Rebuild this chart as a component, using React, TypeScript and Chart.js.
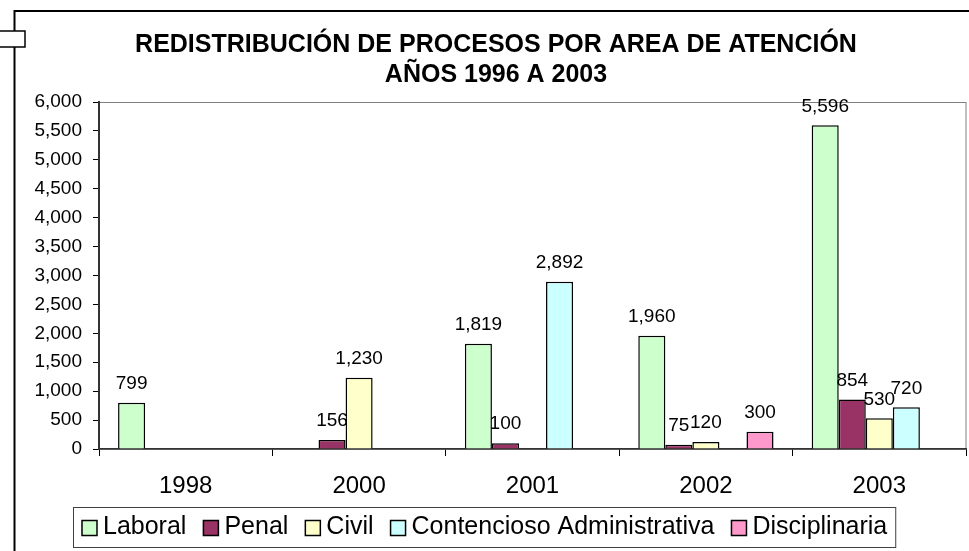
import React, { useEffect, useRef } from "react";
import { Chart, registerables } from "chart.js";

Chart.register(...registerables);

const TITLE_LINES = ["REDISTRIBUCIÓN DE PROCESOS POR AREA DE ATENCIÓN", "AÑOS 1996 A 2003"];
const YEARS = ["1998", "2000", "2001", "2002", "2003"];
const LABORAL = [799, null, 1819, 1960, 5596];
const PENAL = [null, 156, 100, 75, 854];
const CIVIL = [null, 1230, null, 120, 530];
const CONTENCIOSO = [null, null, 2892, null, 720];
const DISCIPLINARIA = [null, null, null, 300, null];
const SERIES_NAMES = ["Laboral", "Penal", "Civil", "Contencioso Administrativa", "Disciplinaria"];
const SERIES_COLORS = ["#CCFFCC", "#993366", "#FFFFCC", "#CCFFFF", "#FF99CC"];
const SERIES_VALUES = [LABORAL, PENAL, CIVIL, CONTENCIOSO, DISCIPLINARIA];
const Y_MIN = 0;
const Y_MAX = 6000;
const Y_STEP = 500;

const FONT = "'Liberation Sans', Arial, sans-serif";
const fmt = (v: number) => v.toLocaleString("en-US");

const decorPlugin = {
  id: "decor",
  beforeDraw(chart: any) {
    const ctx = chart.ctx;
    const a = chart.chartArea;
    ctx.save();
    ctx.fillStyle = "#ffffff";
    ctx.fillRect(0, 0, chart.width, chart.height);
    // outer frame
    ctx.strokeStyle = "#000000";
    ctx.lineWidth = 2;
    ctx.beginPath();
    ctx.moveTo(14.5, chart.height + 2);
    ctx.lineTo(14.5, 11);
    ctx.lineTo(chart.width + 2, 11);
    ctx.stroke();
    // small handle rectangle
    ctx.fillStyle = "#ffffff";
    ctx.fillRect(0, 31, 25, 16);
    ctx.lineWidth = 1.5;
    ctx.strokeRect(-1, 31, 26, 16);
    // plot area border
    ctx.strokeStyle = "#808080";
    ctx.lineWidth = 1;
    ctx.strokeRect(a.left + 0.5, a.top + 0.5, a.right - a.left - 0.5, a.bottom - a.top);
    ctx.restore();
  },
  afterDatasetsDraw(chart: any) {
    const ctx = chart.ctx;
    ctx.save();
    ctx.font = `19px ${FONT}`;
    ctx.fillStyle = "#000000";
    ctx.textAlign = "center";
    ctx.textBaseline = "middle";
    chart.data.datasets.forEach((ds: any, i: number) => {
      const meta = chart.getDatasetMeta(i);
      meta.data.forEach((el: any, j: number) => {
        const v = ds.data[j];
        if (v === null || v === undefined) return;
        ctx.fillText(fmt(v), el.x, el.y - 19);
      });
    });
    ctx.restore();
  },
  afterDraw(chart: any) {
    const ctx = chart.ctx;
    ctx.save();
    // title
    ctx.fillStyle = "#000000";
    ctx.textAlign = "center";
    ctx.textBaseline = "alphabetic";
    ctx.font = `bold 25px ${FONT}`;
    ctx.fillText(TITLE_LINES[0], 496, 52);
    ctx.fillText(TITLE_LINES[1], 496, 82);
    // legend
    ctx.font = `25px ${FONT}`;
    ctx.textAlign = "left";
    ctx.textBaseline = "middle";
    const sq = 15;
    const textOff = 21;
    const itemGap = 17;
    const padL = 9;
    const boxLeft = 73;
    const boxTop = 507;
    const boxH = 40;
    const cy = boxTop + boxH / 2;
    let x = boxLeft + padL;
    const items: { x: number; w: number }[] = [];
    SERIES_NAMES.forEach((name) => {
      const w = ctx.measureText(name).width;
      items.push({ x, w });
      x += textOff + w + itemGap;
    });
    const boxRight = x - itemGap + 8;
    ctx.fillStyle = "#ffffff";
    ctx.fillRect(boxLeft, boxTop, boxRight - boxLeft, boxH);
    ctx.strokeStyle = "#404040";
    ctx.lineWidth = 1;
    ctx.strokeRect(boxLeft + 0.5, boxTop + 0.5, boxRight - boxLeft, boxH);
    SERIES_NAMES.forEach((name, i) => {
      const it = items[i];
      ctx.fillStyle = SERIES_COLORS[i];
      ctx.fillRect(it.x, cy - sq / 2 + 1, sq, sq);
      ctx.strokeStyle = "#000000";
      ctx.lineWidth = 1.5;
      ctx.strokeRect(it.x, cy - sq / 2 + 1, sq, sq);
      ctx.fillStyle = "#000000";
      ctx.fillText(name, it.x + textOff, cy);
    });
    ctx.restore();
  },
};

export default function App() {
  const ref = useRef<HTMLCanvasElement | null>(null);
  useEffect(() => {
    if (!ref.current) return;
    const chart = new Chart(ref.current, {
      type: "bar",
      data: {
        labels: YEARS,
        datasets: SERIES_NAMES.map((name, i) => ({
          label: name,
          data: SERIES_VALUES[i],
          backgroundColor: SERIES_COLORS[i],
          borderColor: "#000000",
          borderWidth: 1.5,
          categoryPercentage: 0.78,
          barPercentage: 1,
        })),
      },
      options: {
        animation: false,
        responsive: false,
        devicePixelRatio: 1,
        layout: { padding: { left: 0, top: 102, right: 3, bottom: 0 } },
        plugins: {
          legend: { display: false },
          title: { display: false },
          tooltip: { enabled: false },
        },
        scales: {
          x: {
            afterFit: (s: any) => {
              s.height = 102;
            },
            grid: {
              display: true,
              drawOnChartArea: false,
              offset: true,
              tickLength: 7,
              color: "#000000",
              lineWidth: 1,
            },
            border: { display: true, color: "#333333", width: 1.5 },
            ticks: {
              color: "#000000",
              font: { family: FONT, size: 24 },
              padding: 16,
              maxRotation: 0,
            },
          },
          y: {
            min: Y_MIN,
            max: Y_MAX,
            afterFit: (s: any) => {
              s.width = 99;
            },
            grid: {
              display: true,
              drawOnChartArea: false,
              tickLength: 6,
              color: "#000000",
              lineWidth: 1,
            },
            border: { display: true, color: "#333333", width: 2 },
            ticks: {
              stepSize: Y_STEP,
              color: "#000000",
              font: { family: FONT, size: 19 },
              padding: 11,
              callback: (v: any) => fmt(Number(v)),
            },
          },
        },
      },
      plugins: [decorPlugin],
    });
    return () => chart.destroy();
  }, []);
  return (
    <div style={{ position: "fixed", left: 0, top: 0, width: 969, height: 551, background: "#fff" }}>
      <canvas ref={ref} width={969} height={551} style={{ display: "block", width: 969, height: 551 }} />
    </div>
  );
}
